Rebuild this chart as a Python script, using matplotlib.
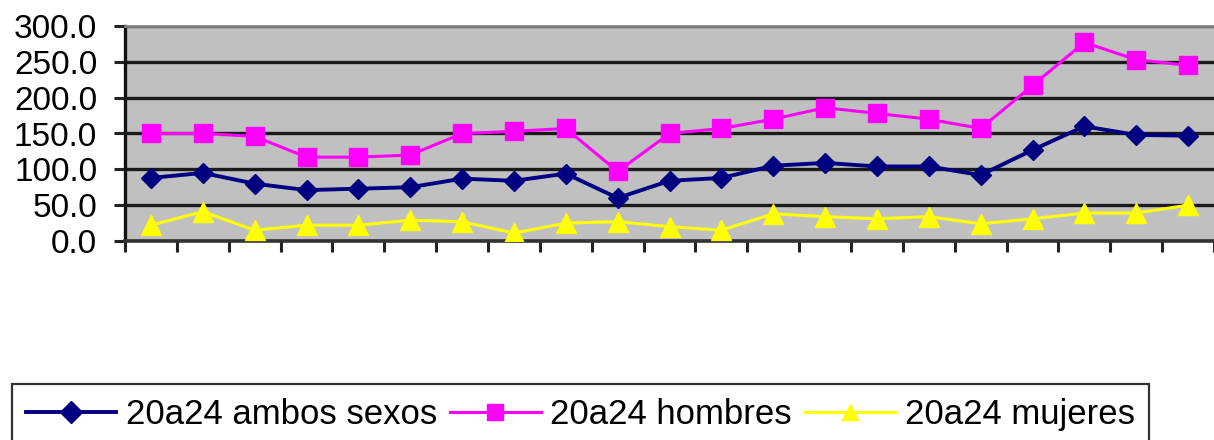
import matplotlib
matplotlib.use("Agg")
import matplotlib.pyplot as plt
import numpy as np

# Series values (rates per category, 21 periods)
ambos_sexos = [88, 95, 80, 71, 73, 75, 87, 84, 94, 60, 84, 88,
               105, 109, 104, 104, 92, 127, 160, 148, 147]
hombres = [150, 150, 146, 117, 117, 120, 150, 153, 157, 97, 150, 157,
           170, 186, 178, 170, 157, 217, 277, 253, 245]
mujeres = [22, 41, 15, 22, 22, 29, 27, 11, 25, 27, 20, 15,
           38, 34, 31, 34, 24, 31, 39, 39, 50]

series_labels = ["20a24 ambos sexos", "20a24 hombres", "20a24 mujeres"]
y_ticks = [0, 50, 100, 150, 200, 250, 300]

plt.rcParams["font.family"] = ["Liberation Sans", "DejaVu Sans"]

W, H = 1214, 440
fig = plt.figure(figsize=(W / 100, H / 100), dpi=100)
fig.patch.set_facecolor("white")

left, right, top, bottom = 125, 1214, 26, 241
ax = fig.add_axes([left / W, 1 - bottom / H, (right - left) / W, (bottom - top) / H])
ax.set_facecolor("#C0C0C0")

x = np.arange(len(hombres))

ax.plot(x, ambos_sexos, color="#000080", lw=2.8, marker="D", ms=10.5,
        mec="#000080", mfc="#000080", label=series_labels[0], zorder=5)
ax.plot(x, hombres, color="#FF00FF", lw=2.2, marker="s", ms=13,
        mec="#FF00FF", mfc="#FF00FF", label=series_labels[1], zorder=4)
ax.plot(x, mujeres, color="#FFFF00", lw=2.2, marker="^", ms=14,
        mec="#FFFF00", mfc="#FFFF00", label=series_labels[2], zorder=4)

ax.set_ylim(0, 300)
ax.set_xlim(-0.5, 20.26)

ax.set_yticks(y_ticks)
ax.set_yticklabels([f"{v:.1f}" for v in y_ticks], fontsize=24)
ax.yaxis.grid(True, color="#1a1a1a", lw=2.4)
ax.set_axisbelow(True)

# category boundaries carry the x ticks
ax.set_xticks(np.arange(-0.5, len(hombres), 1.0))
ax.set_xticklabels([])
ax.tick_params(axis="x", direction="out", length=8, width=2.2, color="#222222")
ax.tick_params(axis="y", direction="out", length=8, width=2.2, color="#222222", pad=12)

ax.spines["left"].set_color("#111111")
ax.spines["left"].set_linewidth(2.4)
ax.spines["bottom"].set_color("#333333")
ax.spines["bottom"].set_linewidth(2.6)
ax.spines["top"].set_color("#808080")
ax.spines["top"].set_linewidth(2.0)
ax.spines["right"].set_visible(False)

leg = fig.legend(loc="upper left", bbox_to_anchor=(12 / W, 1 - 384 / H),
                 ncol=3, fontsize=25, frameon=True, fancybox=False,
                 edgecolor="black", handlelength=2.6, handletextpad=0.28,
                 columnspacing=0.38, borderpad=0.4, borderaxespad=0)
leg.get_frame().set_linewidth(1.6)
for h in leg.legend_handles:
    h.set_markersize(11)

fig.savefig("out.png", dpi=100, facecolor="white")
